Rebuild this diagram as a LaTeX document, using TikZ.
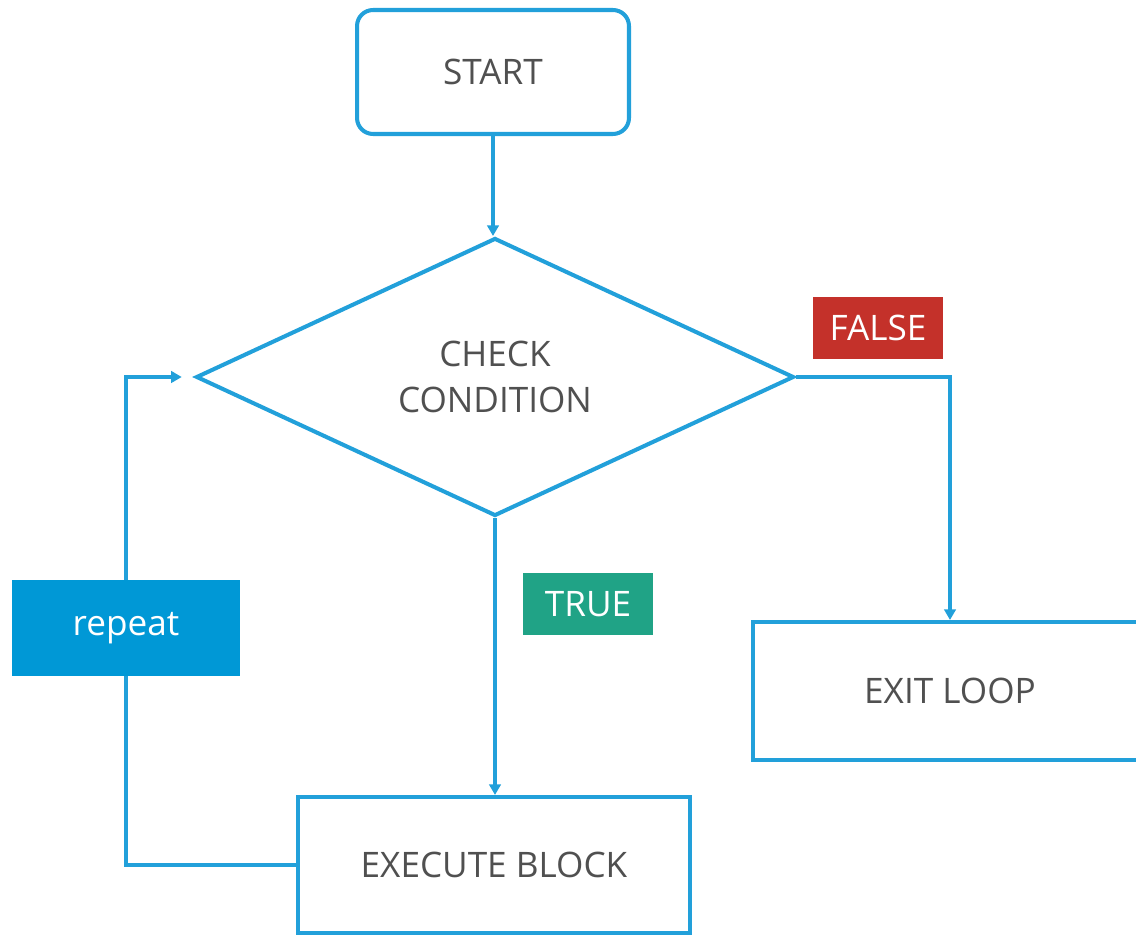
\documentclass[tikz,border=0pt]{standalone}
\usepackage{fontspec}
\setmainfont{Open Sans}
\usetikzlibrary{shapes.geometric,arrows.meta}

\definecolor{linkblue}{HTML}{22A0DA}
\definecolor{repblue}{HTML}{0098D6}
\definecolor{falsered}{HTML}{C4312A}
\definecolor{truegreen}{HTML}{20A386}
\definecolor{labelgray}{HTML}{505050}

\tikzset{
  boxfont/.style={font=\fontsize{20}{26}\selectfont},
  outline/.style={draw=linkblue, line width=2.3pt, fill=white, text=labelgray, boxfont, align=center, inner sep=0pt},
  startbox/.style={outline, rounded corners=0.32cm, minimum width=5.44cm, minimum height=2.48cm},
  procbox/.style={outline, rectangle},
  decision/.style={outline, diamond, aspect=2.15, minimum width=11.96cm, minimum height=5.56cm},
  tag/.style={rectangle, boxfont, text=white, inner sep=0pt, minimum width=2.62cm, minimum height=1.26cm},
  conn/.style={draw=linkblue, line width=2.3pt, -{Triangle[length=6pt,width=6.5pt]}},
}

\begin{document}
\begin{tikzpicture}[x=0.02cm, y=-0.02cm]
  \useasboundingbox (0,0) rectangle (1136,935);
  \clip (0,0) rectangle (1136,935);

  % main flow
  \node[startbox] (start) at (493,72) {START};
  \node[decision] (cond) at (495,377) {CHECK\\CONDITION};
  \node[procbox, minimum width=7.84cm, minimum height=2.72cm] (exec) at (494,865) {EXECUTE BLOCK};
  \node[procbox, minimum width=7.88cm, minimum height=2.76cm] (exit) at (950,691) {EXIT LOOP};

  % branch tags
  \node[tag, fill=falsered] (false) at (878,328) {FALSE};
  \node[tag, fill=truegreen] (true) at (588,604) {TRUE};

  % connectors
  \draw[conn] (start.south) -- (start.south |- cond.north);
  \draw[conn] (cond.east) -| (exit.north);
  \draw[conn] (cond.south) -- (cond.south |- exec.north);

  % loop back, running under the repeat tag
  \coordinate (loopx) at (126,628);
  \draw[conn, shorten >=7pt] (exec.west) -| (loopx) |- (cond.west);
  \node[tag, fill=repblue, minimum width=4.58cm, minimum height=1.94cm] (rep) at (loopx) {repeat};
\end{tikzpicture}
\end{document}
